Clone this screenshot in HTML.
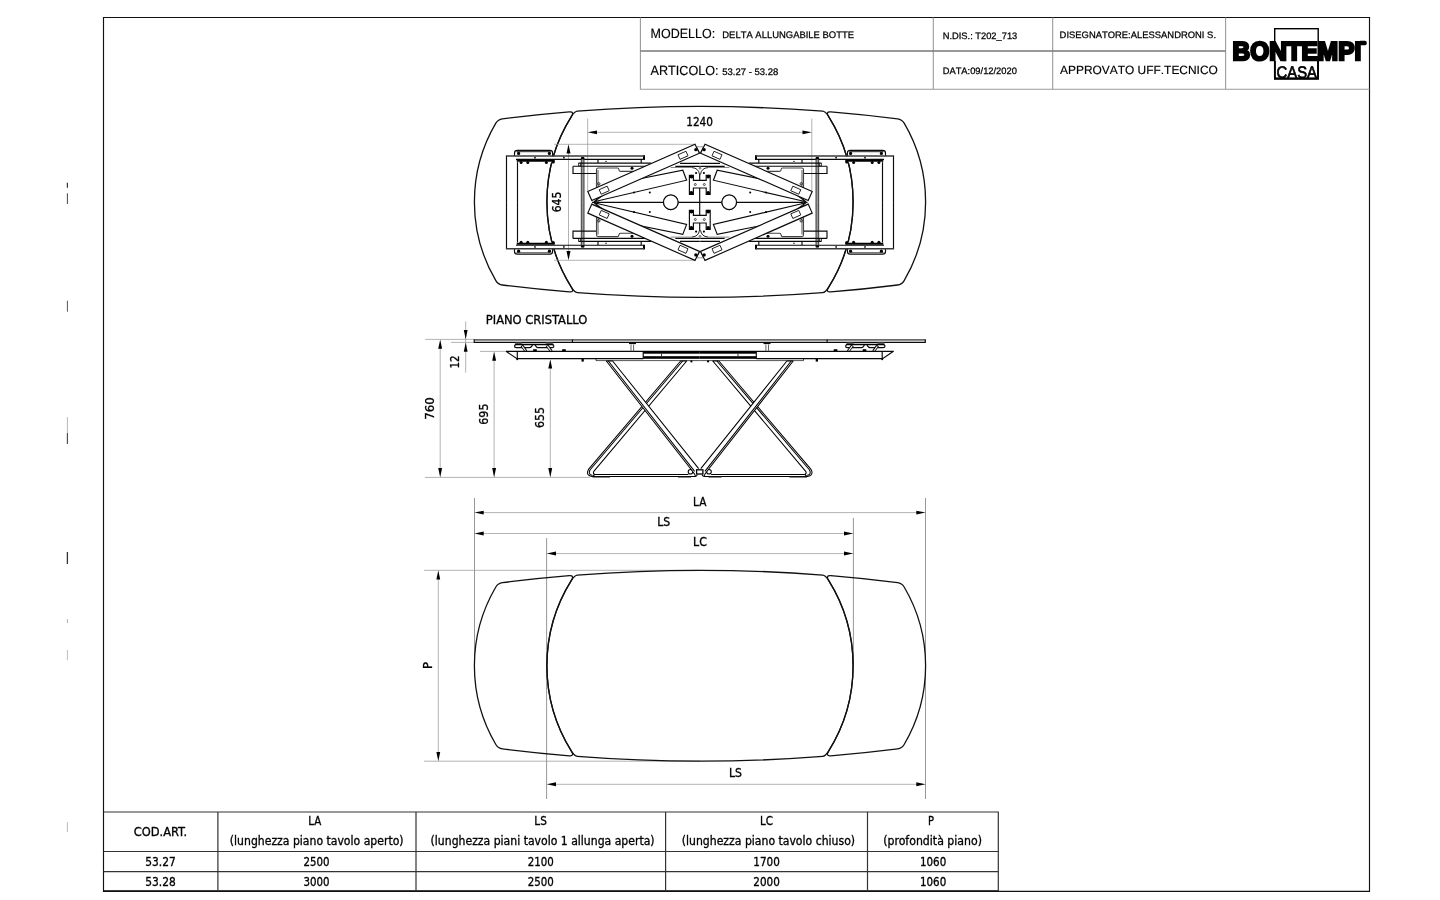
<!DOCTYPE html>
<html lang="it"><head><meta charset="utf-8"><title>DELTA ALLUNGABILE BOTTE - Bontempi Casa</title>
<style>
html,body{margin:0;padding:0;background:#fff;}
body{width:1440px;height:900px;overflow:hidden;position:relative;}
svg{position:absolute;left:0;top:0;display:block;filter:grayscale(1);}
.t{font-family:"DejaVu Sans Condensed","DejaVu Sans","Liberation Sans",sans-serif;font-size:12px;fill:#000;stroke:#000;stroke-width:.3px;}
.a{font-family:"Liberation Sans",sans-serif;fill:#000;text-rendering:geometricPrecision;font-kerning:none;}
.k{fill:none;stroke:#0a0a0a;stroke-width:1.15;}
.k2{fill:none;stroke:#111;stroke-width:1.3;}
.g{fill:none;stroke:#777;stroke-width:1.2;}
.d{fill:none;stroke:#999;stroke-width:.75;}
.tb{fill:none;stroke:#111;stroke-width:1.15;}
.tl{fill:none;stroke:#9a9a9a;stroke-width:1.1;}
.ar{fill:#000;stroke:none;}
.b{fill:#000;stroke:none;}
.lg{fill:none;stroke:#000;stroke-width:1.05;stroke-linejoin:round;}
.wf{fill:#fff;stroke:#0a0a0a;stroke-width:1.15;}
</style></head><body>
<svg width="1440" height="900" viewBox="0 0 1440 900">
<rect x="0" y="0" width="1440" height="900" fill="#fff"/>

<g id="frame">
<path class="tb" d="M103.5 891.3V17.5H1369.5V891.3Z"/>
<path d="M103.5 891.1H998.3" stroke="#111" stroke-width="1.6" fill="none"/>
<path d="M67.4 182.7V187.7" stroke="#333" stroke-width="1.2" fill="none"/>
<path d="M67.4 193.3V204.0" stroke="#444" stroke-width="1" fill="none"/>
<path d="M67.4 300.7V311.7" stroke="#555" stroke-width="1" fill="none"/>
<path d="M67.4 417.0V433.0" stroke="#999" stroke-width="0.7" fill="none"/>
<path d="M67.4 433.0V444.0" stroke="#444" stroke-width="1.1" fill="none"/>
<path d="M67.4 552.0V564.0" stroke="#333" stroke-width="1.3" fill="none"/>
<path d="M67.4 619.0V623.0" stroke="#999" stroke-width="0.8" fill="none"/>
<path d="M67.4 650.0V660.0" stroke="#aaa" stroke-width="0.8" fill="none"/>
<path d="M67.4 822.0V832.0" stroke="#aaa" stroke-width="0.8" fill="none"/>
</g>
<g id="title">
<path class="tl" d="M640.4 17.5V89.2H1369.5M933.3 17.5V89.2M1052.7 17.5V89.2M1225.6 17.5V89.2"/>
<path d="M640.4 51H1225.6" stroke="#777" stroke-width="1.3" fill="none"/>
<text class="a" x="650.6" y="37.8" font-size="13.3" stroke="#000" stroke-width=".15" textLength="64.6" lengthAdjust="spacingAndGlyphs">MODELLO:</text>
<text class="a" x="722.3" y="37.8" font-size="9.5" stroke="#000" stroke-width=".25" textLength="131.7" lengthAdjust="spacingAndGlyphs">DELTA ALLUNGABILE BOTTE</text>
<text class="a" x="650.6" y="75" font-size="13.3" stroke="#000" stroke-width=".15" textLength="68" lengthAdjust="spacingAndGlyphs">ARTICOLO:</text>
<text class="a" x="722.3" y="75" font-size="9.5" stroke="#000" stroke-width=".25" textLength="56" lengthAdjust="spacingAndGlyphs">53.27 - 53.28</text>
<text class="a" x="942.7" y="38.8" font-size="9.3" stroke="#000" stroke-width=".25" textLength="74.6" lengthAdjust="spacingAndGlyphs">N.DIS.: T202_713</text>
<text class="a" x="942.7" y="73.8" font-size="9.3" stroke="#000" stroke-width=".25" textLength="74.2" lengthAdjust="spacingAndGlyphs">DATA:09/12/2020</text>
<text class="a" x="1059.6" y="37.8" font-size="9.3" stroke="#000" stroke-width=".25" textLength="156.4" lengthAdjust="spacingAndGlyphs">DISEGNATORE:ALESSANDRONI S.</text>
<text class="a" x="1060" y="73.8" font-size="12" stroke="#000" stroke-width=".15" textLength="157.8" lengthAdjust="spacingAndGlyphs">APPROVATO UFF.TECNICO</text>
<g id="logo">
<rect x="1274.7" y="28.7" width="43.5" height="50" fill="#fff" stroke="#000" stroke-width="1.4"/>
<rect x="1274" y="77.4" width="44.9" height="2.3" fill="#000"/>
<path d="M1274.9 61V78M1318 61V78" stroke="#000" stroke-width="1.9" fill="none"/>
<text class="a" x="1232.6" y="59.6" font-size="25.9" font-weight="bold" textLength="128.6" lengthAdjust="spacingAndGlyphs" stroke="#000" stroke-width="2.5" stroke-linejoin="miter" stroke-miterlimit="8">BONTEMPI</text>
<path d="M1360 40.8H1365Q1366.8 40.8 1366.8 43Q1366.8 45.3 1365 45.3H1360Z" fill="#000"/>
<text class="a" x="1276.6" y="77.7" font-size="16.8" textLength="40.4" lengthAdjust="spacingAndGlyphs" stroke="#000" stroke-width=".7">CASA</text>
</g>
</g>
<g id="table">
<path class="k" style="stroke:#333;stroke-width:1.2" d="M103.5 812H998.3V891.2M103.5 851.5H998.3M103.5 871.6H998.3M217.9 812V891.2M416 812V891.2M665.6 812V891.2M867.5 812V891.2"/>
<text class="t" x="160.5" y="836.0" text-anchor="middle" textLength="53.5" lengthAdjust="spacingAndGlyphs">COD.ART.</text>
<text class="t" x="160.5" y="865.5" text-anchor="middle" textLength="30.5" lengthAdjust="spacingAndGlyphs">53.27</text>
<text class="t" x="160.5" y="885.6" text-anchor="middle" textLength="30.5" lengthAdjust="spacingAndGlyphs">53.28</text>
<text class="t" x="314.8" y="825.2" text-anchor="middle" textLength="13.0" lengthAdjust="spacingAndGlyphs">LA</text>
<text class="t" x="316.7" y="845.2" text-anchor="middle" textLength="173.7" lengthAdjust="spacingAndGlyphs">(lunghezza piano tavolo aperto)</text>
<text class="t" x="316.5" y="865.5" text-anchor="middle" textLength="26.0" lengthAdjust="spacingAndGlyphs">2500</text>
<text class="t" x="316.5" y="885.6" text-anchor="middle" textLength="26.0" lengthAdjust="spacingAndGlyphs">3000</text>
<text class="t" x="540.6" y="825.2" text-anchor="middle" textLength="12.5" lengthAdjust="spacingAndGlyphs">LS</text>
<text class="t" x="542.6" y="845.2" text-anchor="middle" textLength="224.0" lengthAdjust="spacingAndGlyphs">(lunghezza piani tavolo 1 allunga aperta)</text>
<text class="t" x="540.7" y="865.5" text-anchor="middle" textLength="26.0" lengthAdjust="spacingAndGlyphs">2100</text>
<text class="t" x="540.7" y="885.6" text-anchor="middle" textLength="26.0" lengthAdjust="spacingAndGlyphs">2500</text>
<text class="t" x="766.5" y="825.2" text-anchor="middle" textLength="13.0" lengthAdjust="spacingAndGlyphs">LC</text>
<text class="t" x="768.4" y="845.2" text-anchor="middle" textLength="173.3" lengthAdjust="spacingAndGlyphs">(lunghezza piano tavolo chiuso)</text>
<text class="t" x="766.6" y="865.5" text-anchor="middle" textLength="26.5" lengthAdjust="spacingAndGlyphs">1700</text>
<text class="t" x="766.6" y="885.6" text-anchor="middle" textLength="26.5" lengthAdjust="spacingAndGlyphs">2000</text>
<text class="t" x="931.0" y="825.2" text-anchor="middle" textLength="6.0" lengthAdjust="spacingAndGlyphs">P</text>
<text class="t" x="932.6" y="845.2" text-anchor="middle" textLength="98.8" lengthAdjust="spacingAndGlyphs">(profondità piano)</text>
<text class="t" x="933.1" y="865.5" text-anchor="middle" textLength="26.2" lengthAdjust="spacingAndGlyphs">1060</text>
<text class="t" x="933.1" y="885.6" text-anchor="middle" textLength="26.2" lengthAdjust="spacingAndGlyphs">1060</text>
</g>
<g id="plan">
<g class="d">
<path style="stroke:#6a6a6a;stroke-width:.7" d="M474.5 498V665M925.5 498V799M853.4 518V665M546.6 538V799"/>
<path d="M483 512.6H917M483 533.5H845M555 553.6H845M555 784.3H917"/>
<path d="M424 570.3H700M424 761.2H700M438.3 579V753"/>
</g>
<polygon class="ar" points="474.4,512.6 483.7,510.7 483.7,514.6"/>
<polygon class="ar" points="925.6,512.6 916.3,510.7 916.3,514.6"/>
<polygon class="ar" points="474.4,533.5 483.7,531.5 483.7,535.5"/>
<polygon class="ar" points="853.3,533.5 844.0,531.5 844.0,535.5"/>
<polygon class="ar" points="546.7,553.6 556.0,551.6 556.0,555.6"/>
<polygon class="ar" points="853.3,553.6 844.0,551.6 844.0,555.6"/>
<polygon class="ar" points="546.7,784.3 556.0,782.3 556.0,786.2"/>
<polygon class="ar" points="925.6,784.3 916.3,782.3 916.3,786.2"/>
<polygon class="ar" points="438.3,570.3 436.4,579.6 440.2,579.6"/>
<polygon class="ar" points="438.3,761.2 436.4,751.9 440.2,751.9"/>
<text class="t" x="699.7" y="505.8" text-anchor="middle" textLength="13.3" lengthAdjust="spacingAndGlyphs">LA</text>
<text class="t" x="663.7" y="525.8" text-anchor="middle" textLength="13.0" lengthAdjust="spacingAndGlyphs">LS</text>
<text class="t" x="700.0" y="545.6" text-anchor="middle" textLength="13.8" lengthAdjust="spacingAndGlyphs">LC</text>
<text class="t" x="735.5" y="776.7" text-anchor="middle" textLength="13.0" lengthAdjust="spacingAndGlyphs">LS</text>
<text class="t" transform="translate(432.2 665.6) rotate(-90)" text-anchor="middle" style="font-size:12.7px">P</text>
<g class="k2" transform="translate(700.00 665.75)">
<path d="M -122.70 -90.69 A 1580 1580 0 0 1 122.70 -90.69 Q 125.30 -90.48 128.26 -85.96 A 161.15 161.15 0 0 1 128.26 85.96 Q 125.30 90.48 122.70 90.69 A 1580 1580 0 0 1 -122.70 90.69 Q -125.30 90.48 -128.26 85.96 A 161.15 161.15 0 0 1 -128.26 -85.96 Q -125.30 -90.48 -122.70 -90.69 Z"/>
<path d="M 130.70 -90.04 A 1580 1580 0 0 1 197.64 -83.09 Q 201.84 -82.56 204.02 -78.98 A 155.3 155.3 0 0 1 204.02 78.98 Q 201.84 82.56 197.64 83.09 A 1580 1580 0 0 1 130.70 90.04 Q 125.30 90.48 128.68 85.29 A 161.15 161.15 0 0 0 128.68 -85.29 Q 125.30 -90.48 130.70 -90.04 Z"/>
<path d="M -130.70 -90.04 A 1580 1580 0 0 0 -197.64 -83.09 Q -201.84 -82.56 -204.02 -78.98 A 155.3 155.3 0 0 0 -204.02 78.98 Q -201.84 82.56 -197.64 83.09 A 1580 1580 0 0 0 -130.70 90.04 Q -125.30 90.48 -128.68 85.29 A 161.15 161.15 0 0 1 -128.68 -85.29 Q -125.30 -90.48 -130.70 -90.04 Z"/>
</g>
</g><g id="topview">
<g class="k2" transform="translate(700.00 201.90)">
<path d="M -122.70 -90.69 A 1580 1580 0 0 1 122.70 -90.69 Q 125.30 -90.48 128.26 -85.96 A 161.15 161.15 0 0 1 128.26 85.96 Q 125.30 90.48 122.70 90.69 A 1580 1580 0 0 1 -122.70 90.69 Q -125.30 90.48 -128.26 85.96 A 161.15 161.15 0 0 1 -128.26 -85.96 Q -125.30 -90.48 -122.70 -90.69 Z"/>
<path d="M 130.70 -90.04 A 1580 1580 0 0 1 197.64 -83.09 Q 201.84 -82.56 204.02 -78.98 A 155.3 155.3 0 0 1 204.02 78.98 Q 201.84 82.56 197.64 83.09 A 1580 1580 0 0 1 130.70 90.04 Q 125.30 90.48 128.68 85.29 A 161.15 161.15 0 0 0 128.68 -85.29 Q 125.30 -90.48 130.70 -90.04 Z"/>
<path d="M -130.70 -90.04 A 1580 1580 0 0 0 -197.64 -83.09 Q -201.84 -82.56 -204.02 -78.98 A 155.3 155.3 0 0 0 -204.02 78.98 Q -201.84 82.56 -197.64 83.09 A 1580 1580 0 0 0 -130.70 90.04 Q -125.30 90.48 -128.68 85.29 A 161.15 161.15 0 0 1 -128.68 -85.29 Q -125.30 -90.48 -130.70 -90.04 Z"/>
</g>
<g class="d">
<path d="M587.7 118.6V191M811.8 118.6V191M596.5 132.3H803M554 144.3H695M554 260.3H695M568.5 153V251.5"/>
</g>
<polygon class="ar" points="587.7,132.3 597.0,130.4 597.0,134.2"/>
<polygon class="ar" points="811.8,132.3 802.5,130.4 802.5,134.2"/>
<polygon class="ar" points="568.5,144.3 566.5,153.6 570.5,153.6"/>
<polygon class="ar" points="568.5,260.3 566.5,251.0 570.5,251.0"/>
<text class="t" x="699.6" y="125.6" text-anchor="middle" textLength="26.8" lengthAdjust="spacingAndGlyphs">1240</text>
<text class="t" transform="translate(561 202) rotate(-90)" text-anchor="middle" style="font-size:12.7px" textLength="20.6" lengthAdjust="spacingAndGlyphs">645</text>
<path class="k" d="M592 202.3H807.5"/>
<path class="k" d="M699.7 174V230.6"/>
<g><rect class="b" x="643" y="155.2" width="2" height="4.7"/>
<path class="k" d="M506.5 155.8V202.4M517.5 159V202.4"/>
<rect x="513" y="156.6" width="50" height="5.6" fill="#fff" stroke="none"/>
<path class="k" style="fill:#fff" d="M514.5 156V153Q514.5 150.4 517.4 150.4H549.8Q552.6 150.4 552.6 153V156"/>
<path class="k" style="stroke-width:.9" d="M516.4 151.7H550.6"/>
<path d="M505.9 155.9H644" stroke="#3a3a3a" stroke-width="1.5" fill="none"/>
<path class="k" d="M516 159.4H643"/>
<circle class="b" cx="518.6" cy="153.4" r="1.6"/><circle class="b" cx="549.4" cy="153.4" r="1.6"/>
<path d="M516.7 160.8H554.7" stroke="#000" stroke-width="2" fill="none"/>
<circle class="b" cx="521.1" cy="162.4" r="1.5"/>
<circle class="b" cx="527.8" cy="162.4" r="1.5"/>
<circle class="b" cx="546.4" cy="162.4" r="1.5"/>
<circle class="b" cx="553.3" cy="162.0" r="1.5"/>
<circle class="b" cx="535" cy="157.7" r=".85"/><circle class="b" cx="563.9" cy="157.7" r=".85"/>
<rect x="581.4" y="158" width="2.5" height="44.4" fill="#9a9a9a" stroke="none"/>
<path class="g" style="stroke:#2a2a2a;stroke-width:.9" d="M581.3 158V202.4M584 158V202.4"/>
<rect class="b" x="581.1" y="157" width="3.1" height="2.4"/>
<path class="k" d="M598 159.4V163M641.2 159.4V163"/>
<circle class="b" cx="606" cy="161.4" r=".7"/>
<path class="k" style="stroke-width:1.3" d="M578.4 163.2H651"/>
<path class="k" style="stroke-width:.8" d="M578.6 163.2V166H580.6V163.2"/>
<path class="k" d="M573 166.2H648"/>
<path class="k" d="M573 166.2V173.5H596"/>
<path class="g" style="stroke:#444;stroke-width:1.1" d="M596.5 202.4V169.6Q596.5 168 598.2 168H617.8Q618.6 168 618.8 169.4Q619 171.4 620.6 171.4H633.5"/>
<path class="k" style="stroke-width:.7" d="M598 202.4V170"/>
<circle class="b" cx="632" cy="168.3" r="1.5"/>
<circle class="k" style="stroke-width:.8" cx="598.8" cy="183.8" r="1.2"/>
<polygon class="wf" points="594,201.8 620,182.8 682.8,170.2 686.6,180.2"/>
<polygon class="wf" points="587.8,191.5 695,144.2 699.4,153.2 591.8,200.5"/>
<polygon class="k" style="stroke-width:.9" points="599.21,189.67 607.17,186.16 609.19,190.73 601.23,194.24"/>
<polygon class="k" style="stroke-width:.9" points="678.01,154.77 685.97,151.26 687.99,155.83 680.03,159.34"/>
<circle class="b" cx="634" cy="192.6" r="1"/><circle class="b" cx="649.8" cy="192.6" r="1"/>
<circle class="wf" cx="670.8" cy="202.3" r="7.3"/>
<circle class="b" cx="695.8" cy="149.7" r="1.6"/>
<path class="k" style="stroke-width:.8" d="M696.6 147.2L699.75 153.2"/>
<path class="g" style="stroke-width:.9" d="M697 146.8H699.8"/>
<path class="k" style="stroke-width:.9" d="M692 167.6Q698.6 168 699.5 174.4"/>
<circle class="b" cx="696.1" cy="173" r="1.1"/>
<path class="k" d="M680 163.3H699.8M675.3 166.3H699.8"/>
<path class="g" style="stroke-width:.9" d="M670.7 167.5H692"/></g>
<g transform="translate(1400.00 0) scale(-1 1)"><rect class="b" x="643" y="155.2" width="2" height="4.7"/>
<path class="k" d="M506.5 155.8V202.4M517.5 159V202.4"/>
<rect x="513" y="156.6" width="50" height="5.6" fill="#fff" stroke="none"/>
<path class="k" style="fill:#fff" d="M514.5 156V153Q514.5 150.4 517.4 150.4H549.8Q552.6 150.4 552.6 153V156"/>
<path class="k" style="stroke-width:.9" d="M516.4 151.7H550.6"/>
<path d="M505.9 155.9H644" stroke="#3a3a3a" stroke-width="1.5" fill="none"/>
<path class="k" d="M516 159.4H643"/>
<circle class="b" cx="518.6" cy="153.4" r="1.6"/><circle class="b" cx="549.4" cy="153.4" r="1.6"/>
<path d="M516.7 160.8H554.7" stroke="#000" stroke-width="2" fill="none"/>
<circle class="b" cx="521.1" cy="162.4" r="1.5"/>
<circle class="b" cx="527.8" cy="162.4" r="1.5"/>
<circle class="b" cx="546.4" cy="162.4" r="1.5"/>
<circle class="b" cx="553.3" cy="162.0" r="1.5"/>
<circle class="b" cx="535" cy="157.7" r=".85"/><circle class="b" cx="563.9" cy="157.7" r=".85"/>
<rect x="581.4" y="158" width="2.5" height="44.4" fill="#9a9a9a" stroke="none"/>
<path class="g" style="stroke:#2a2a2a;stroke-width:.9" d="M581.3 158V202.4M584 158V202.4"/>
<rect class="b" x="581.1" y="157" width="3.1" height="2.4"/>
<path class="k" d="M598 159.4V163M641.2 159.4V163"/>
<circle class="b" cx="606" cy="161.4" r=".7"/>
<path class="k" style="stroke-width:1.3" d="M578.4 163.2H651"/>
<path class="k" style="stroke-width:.8" d="M578.6 163.2V166H580.6V163.2"/>
<path class="k" d="M573 166.2H648"/>
<path class="k" d="M573 166.2V173.5H596"/>
<path class="g" style="stroke:#444;stroke-width:1.1" d="M596.5 202.4V169.6Q596.5 168 598.2 168H617.8Q618.6 168 618.8 169.4Q619 171.4 620.6 171.4H633.5"/>
<path class="k" style="stroke-width:.7" d="M598 202.4V170"/>
<circle class="b" cx="632" cy="168.3" r="1.5"/>
<circle class="k" style="stroke-width:.8" cx="598.8" cy="183.8" r="1.2"/>
<polygon class="wf" points="594,201.8 620,182.8 682.8,170.2 686.6,180.2"/>
<polygon class="wf" points="587.8,191.5 695,144.2 699.4,153.2 591.8,200.5"/>
<polygon class="k" style="stroke-width:.9" points="599.21,189.67 607.17,186.16 609.19,190.73 601.23,194.24"/>
<polygon class="k" style="stroke-width:.9" points="678.01,154.77 685.97,151.26 687.99,155.83 680.03,159.34"/>
<circle class="b" cx="634" cy="192.6" r="1"/><circle class="b" cx="649.8" cy="192.6" r="1"/>
<circle class="wf" cx="670.8" cy="202.3" r="7.3"/>
<circle class="b" cx="695.8" cy="149.7" r="1.6"/>
<path class="k" style="stroke-width:.8" d="M696.6 147.2L699.75 153.2"/>
<path class="g" style="stroke-width:.9" d="M697 146.8H699.8"/>
<path class="k" style="stroke-width:.9" d="M692 167.6Q698.6 168 699.5 174.4"/>
<circle class="b" cx="696.1" cy="173" r="1.1"/>
<path class="k" d="M680 163.3H699.8M675.3 166.3H699.8"/>
<path class="g" style="stroke-width:.9" d="M670.7 167.5H692"/></g>
<g transform="translate(0 404.60) scale(1 -1)"><rect class="b" x="643" y="155.2" width="2" height="4.7"/>
<path class="k" d="M506.5 155.8V202.4M517.5 159V202.4"/>
<rect x="513" y="156.6" width="50" height="5.6" fill="#fff" stroke="none"/>
<path class="k" style="fill:#fff" d="M514.5 156V153Q514.5 150.4 517.4 150.4H549.8Q552.6 150.4 552.6 153V156"/>
<path class="k" style="stroke-width:.9" d="M516.4 151.7H550.6"/>
<path d="M505.9 155.9H644" stroke="#3a3a3a" stroke-width="1.5" fill="none"/>
<path class="k" d="M516 159.4H643"/>
<circle class="b" cx="518.6" cy="153.4" r="1.6"/><circle class="b" cx="549.4" cy="153.4" r="1.6"/>
<path d="M516.7 160.8H554.7" stroke="#000" stroke-width="2" fill="none"/>
<circle class="b" cx="521.1" cy="162.4" r="1.5"/>
<circle class="b" cx="527.8" cy="162.4" r="1.5"/>
<circle class="b" cx="546.4" cy="162.4" r="1.5"/>
<circle class="b" cx="553.3" cy="162.0" r="1.5"/>
<circle class="b" cx="535" cy="157.7" r=".85"/><circle class="b" cx="563.9" cy="157.7" r=".85"/>
<rect x="581.4" y="158" width="2.5" height="44.4" fill="#9a9a9a" stroke="none"/>
<path class="g" style="stroke:#2a2a2a;stroke-width:.9" d="M581.3 158V202.4M584 158V202.4"/>
<rect class="b" x="581.1" y="157" width="3.1" height="2.4"/>
<path class="k" d="M598 159.4V163M641.2 159.4V163"/>
<circle class="b" cx="606" cy="161.4" r=".7"/>
<path class="k" style="stroke-width:1.3" d="M578.4 163.2H651"/>
<path class="k" style="stroke-width:.8" d="M578.6 163.2V166H580.6V163.2"/>
<path class="k" d="M573 166.2H648"/>
<path class="k" d="M573 166.2V173.5H596"/>
<path class="g" style="stroke:#444;stroke-width:1.1" d="M596.5 202.4V169.6Q596.5 168 598.2 168H617.8Q618.6 168 618.8 169.4Q619 171.4 620.6 171.4H633.5"/>
<path class="k" style="stroke-width:.7" d="M598 202.4V170"/>
<circle class="b" cx="632" cy="168.3" r="1.5"/>
<circle class="k" style="stroke-width:.8" cx="598.8" cy="183.8" r="1.2"/>
<polygon class="wf" points="594,201.8 620,182.8 682.8,170.2 686.6,180.2"/>
<polygon class="wf" points="587.8,191.5 695,144.2 699.4,153.2 591.8,200.5"/>
<polygon class="k" style="stroke-width:.9" points="599.21,189.67 607.17,186.16 609.19,190.73 601.23,194.24"/>
<polygon class="k" style="stroke-width:.9" points="678.01,154.77 685.97,151.26 687.99,155.83 680.03,159.34"/>
<circle class="b" cx="634" cy="192.6" r="1"/><circle class="b" cx="649.8" cy="192.6" r="1"/>
<circle class="wf" cx="670.8" cy="202.3" r="7.3"/>
<circle class="b" cx="695.8" cy="149.7" r="1.6"/>
<path class="k" style="stroke-width:.8" d="M696.6 147.2L699.75 153.2"/>
<path class="g" style="stroke-width:.9" d="M697 146.8H699.8"/>
<path class="k" style="stroke-width:.9" d="M692 167.6Q698.6 168 699.5 174.4"/>
<circle class="b" cx="696.1" cy="173" r="1.1"/>
<path class="k" d="M680 163.3H699.8M675.3 166.3H699.8"/>
<path class="g" style="stroke-width:.9" d="M670.7 167.5H692"/></g>
<g transform="translate(1400.00 404.60) scale(-1 -1)"><rect class="b" x="643" y="155.2" width="2" height="4.7"/>
<path class="k" d="M506.5 155.8V202.4M517.5 159V202.4"/>
<rect x="513" y="156.6" width="50" height="5.6" fill="#fff" stroke="none"/>
<path class="k" style="fill:#fff" d="M514.5 156V153Q514.5 150.4 517.4 150.4H549.8Q552.6 150.4 552.6 153V156"/>
<path class="k" style="stroke-width:.9" d="M516.4 151.7H550.6"/>
<path d="M505.9 155.9H644" stroke="#3a3a3a" stroke-width="1.5" fill="none"/>
<path class="k" d="M516 159.4H643"/>
<circle class="b" cx="518.6" cy="153.4" r="1.6"/><circle class="b" cx="549.4" cy="153.4" r="1.6"/>
<path d="M516.7 160.8H554.7" stroke="#000" stroke-width="2" fill="none"/>
<circle class="b" cx="521.1" cy="162.4" r="1.5"/>
<circle class="b" cx="527.8" cy="162.4" r="1.5"/>
<circle class="b" cx="546.4" cy="162.4" r="1.5"/>
<circle class="b" cx="553.3" cy="162.0" r="1.5"/>
<circle class="b" cx="535" cy="157.7" r=".85"/><circle class="b" cx="563.9" cy="157.7" r=".85"/>
<rect x="581.4" y="158" width="2.5" height="44.4" fill="#9a9a9a" stroke="none"/>
<path class="g" style="stroke:#2a2a2a;stroke-width:.9" d="M581.3 158V202.4M584 158V202.4"/>
<rect class="b" x="581.1" y="157" width="3.1" height="2.4"/>
<path class="k" d="M598 159.4V163M641.2 159.4V163"/>
<circle class="b" cx="606" cy="161.4" r=".7"/>
<path class="k" style="stroke-width:1.3" d="M578.4 163.2H651"/>
<path class="k" style="stroke-width:.8" d="M578.6 163.2V166H580.6V163.2"/>
<path class="k" d="M573 166.2H648"/>
<path class="k" d="M573 166.2V173.5H596"/>
<path class="g" style="stroke:#444;stroke-width:1.1" d="M596.5 202.4V169.6Q596.5 168 598.2 168H617.8Q618.6 168 618.8 169.4Q619 171.4 620.6 171.4H633.5"/>
<path class="k" style="stroke-width:.7" d="M598 202.4V170"/>
<circle class="b" cx="632" cy="168.3" r="1.5"/>
<circle class="k" style="stroke-width:.8" cx="598.8" cy="183.8" r="1.2"/>
<polygon class="wf" points="594,201.8 620,182.8 682.8,170.2 686.6,180.2"/>
<polygon class="wf" points="587.8,191.5 695,144.2 699.4,153.2 591.8,200.5"/>
<polygon class="k" style="stroke-width:.9" points="599.21,189.67 607.17,186.16 609.19,190.73 601.23,194.24"/>
<polygon class="k" style="stroke-width:.9" points="678.01,154.77 685.97,151.26 687.99,155.83 680.03,159.34"/>
<circle class="b" cx="634" cy="192.6" r="1"/><circle class="b" cx="649.8" cy="192.6" r="1"/>
<circle class="wf" cx="670.8" cy="202.3" r="7.3"/>
<circle class="b" cx="695.8" cy="149.7" r="1.6"/>
<path class="k" style="stroke-width:.8" d="M696.6 147.2L699.75 153.2"/>
<path class="g" style="stroke-width:.9" d="M697 146.8H699.8"/>
<path class="k" style="stroke-width:.9" d="M692 167.6Q698.6 168 699.5 174.4"/>
<circle class="b" cx="696.1" cy="173" r="1.1"/>
<path class="k" d="M680 163.3H699.8M675.3 166.3H699.8"/>
<path class="g" style="stroke-width:.9" d="M670.7 167.5H692"/></g>
<path class="wf" d="M689.4 175.3H693.4V180.3H706.2V175.3H710.2V194.3H706.2V188.0H693.4V194.3H689.4Z"/><circle class="b" cx="691.4" cy="176.6" r="1.9"/><circle class="b" cx="708.2" cy="176.6" r="1.9"/><circle class="b" cx="691.4" cy="193.0" r="1.9"/><circle class="b" cx="708.2" cy="193.0" r="1.9"/><circle class="k" style="stroke-width:.7" cx="695.3" cy="184.5" r="1"/><circle class="k" style="stroke-width:.7" cx="704.3" cy="184.5" r="1"/>
<path class="wf" d="M689.4 210.3H693.4V215.3H706.2V210.3H710.2V229.3H706.2V223.0H693.4V229.3H689.4Z"/><circle class="b" cx="691.4" cy="211.6" r="1.9"/><circle class="b" cx="708.2" cy="211.6" r="1.9"/><circle class="b" cx="691.4" cy="228.0" r="1.9"/><circle class="b" cx="708.2" cy="228.0" r="1.9"/><circle class="k" style="stroke-width:.7" cx="695.3" cy="219.5" r="1"/><circle class="k" style="stroke-width:.7" cx="704.3" cy="219.5" r="1"/>
<circle class="k" style="stroke-width:.6" cx="700.00" cy="168.2" r=".9"/><circle class="k" style="stroke-width:.6" cx="700.00" cy="236.4" r=".9"/>
</g><g id="side">
<g class="d">
<path d="M425.3 339.4H474M451 342.4H474M465.7 321.5V372.6M440.2 348V468.5M480 351.4H506M494.1 360V468.5M550.3 368V468.5M425 477.4H590"/>
</g>
<polygon class="ar" points="465.7,339.3 463.8,330.0 467.6,330.0"/>
<polygon class="ar" points="465.7,342.4 463.8,351.7 467.6,351.7"/>
<polygon class="ar" points="440.2,339.4 438.2,348.7 442.1,348.7"/>
<polygon class="ar" points="440.2,477.4 438.2,468.1 442.1,468.1"/>
<polygon class="ar" points="494.1,351.4 492.2,360.7 496.1,360.7"/>
<polygon class="ar" points="494.1,477.4 492.2,468.1 496.1,468.1"/>
<polygon class="ar" points="550.3,359.2 548.3,368.5 552.2,368.5"/>
<polygon class="ar" points="550.3,477.4 548.3,468.1 552.2,468.1"/>
<text class="t" x="485.8" y="323.6" textLength="101.6" lengthAdjust="spacingAndGlyphs">PIANO CRISTALLO</text>
<text class="t" transform="translate(459.0 362.0) rotate(-90)" text-anchor="middle" style="font-size:12.7px" textLength="13.2" lengthAdjust="spacingAndGlyphs">12</text>
<text class="t" transform="translate(433.6 408.4) rotate(-90)" text-anchor="middle" style="font-size:12.7px" textLength="22.6" lengthAdjust="spacingAndGlyphs">760</text>
<text class="t" transform="translate(487.9 414.1) rotate(-90)" text-anchor="middle" style="font-size:12.7px" textLength="21.2" lengthAdjust="spacingAndGlyphs">695</text>
<text class="t" transform="translate(543.8 417.5) rotate(-90)" text-anchor="middle" style="font-size:12.7px" textLength="21.0" lengthAdjust="spacingAndGlyphs">655</text>
<path d="M474.2 339.9H925.3" stroke="#6a6a6a" stroke-width="1.6" fill="none"/>
<path class="k" d="M474.2 339.3V342.4H925.3V339.3M572.4 339.5V342.4M827.1 339.5V342.4"/>
<g><path d="M515.2 343.1H522M545.8 343.1H552.9" stroke="#444" stroke-width="1.5" fill="none"/>
<path d="M515 344.6H553.4" stroke="#000" stroke-width="1.5" fill="none"/>
<path class="k" d="M516 344.6Q514.5 344.8 514.5 346Q514.5 347.6 516.2 347.6H529.8Q531 347.4 531.6 346.4L532.6 344.8M535 344.8L536 346.4Q536.6 347.4 537.8 347.6H552.2Q553.9 347.6 553.9 346Q553.9 344.8 552.4 344.6"/>
<path d="M521.8 345.4L526 351.3M547 345.4L551.4 351.3" stroke="#111" stroke-width="3" fill="none"/>
<path d="M522.2 346.2L525.6 351M547.4 346.2L551 351" stroke="#fff" stroke-width="1.1" fill="none"/>
<path class="k" d="M506 351.3H699.75"/>
<path class="k" d="M506 351.3L517.3 359V351.3"/>
<path class="k" d="M517.3 358.6H643.2"/>
<circle class="b" cx="517.2" cy="359.3" r=".9"/>
<rect class="b" x="533.2" y="349.2" width="3.6" height="2.1"/><rect class="b" x="562.1" y="349.2" width="3.7" height="2.1"/>
<rect class="b" x="581.5" y="359" width="2.3" height="2.6"/>
<path class="g" style="stroke:#555;stroke-width:1" d="M596 360.6H699.75"/>
<path class="k" style="stroke-width:.8" d="M596 359V360.6"/>
<path class="g" style="stroke:#555;stroke-width:.9" d="M631 344.5V351.3M633.6 344.5V351.3"/>
<path class="k" style="stroke-width:1.4" d="M629 343.4H636"/>
<rect class="b" x="643.2" y="351.3" width="56.55" height="2.4"/>
<rect class="b" x="643.2" y="356.2" width="56.55" height="2.6"/>
<path class="k" d="M643.2 351.3V359"/>
<path class="k" style="stroke-width:.8" d="M661.5 353.7V356.2"/>
<circle class="b" cx="691.4" cy="361.4" r="1.1"/>
<circle class="lg" cx="690.5" cy="471.7" r="2.3"/>
<path class="lg" style="fill:#fff" d="M680.6 361L588.46 469.4Q586.4 473 588.6 475.2Q590 476.5 592.4 476.4L594.8 474.5Q592.6 473.6 593.8 471.4L686.7 361Z"/>
<path class="lg" d="M682.6 361L589.95 470Q588.6 473 590 474.4Q591 475.2 592.4 475.2"/>
<path style="fill:#fff;stroke:none" d="M606.3 361L692.95 471.8Q695.4 474.4 695.4 476.4L698 476V469.6L698.6 468.4L612.6 361Z"/>
<path class="lg" d="M606.3 361L692.95 471.8Q695.2 474.4 695.4 476.4Q697 476.2 697.4 474.6M612.6 361L698.7 468.6"/>
<path class="lg" d="M606.3 361H612.6"/>
<path class="lg" d="M608.3 361L694.63 471.4"/>
<path class="lg" d="M594.8 474.5H688.4M592.4 476.4H695.4"/>
<path class="g" style="stroke:#777;stroke-width:1" d="M592.5 477.4H610M678 477.4H691"/></g>
<g transform="translate(1399.50 0) scale(-1 1)"><path d="M515.2 343.1H522M545.8 343.1H552.9" stroke="#444" stroke-width="1.5" fill="none"/>
<path d="M515 344.6H553.4" stroke="#000" stroke-width="1.5" fill="none"/>
<path class="k" d="M516 344.6Q514.5 344.8 514.5 346Q514.5 347.6 516.2 347.6H529.8Q531 347.4 531.6 346.4L532.6 344.8M535 344.8L536 346.4Q536.6 347.4 537.8 347.6H552.2Q553.9 347.6 553.9 346Q553.9 344.8 552.4 344.6"/>
<path d="M521.8 345.4L526 351.3M547 345.4L551.4 351.3" stroke="#111" stroke-width="3" fill="none"/>
<path d="M522.2 346.2L525.6 351M547.4 346.2L551 351" stroke="#fff" stroke-width="1.1" fill="none"/>
<path class="k" d="M506 351.3H699.75"/>
<path class="k" d="M506 351.3L517.3 359V351.3"/>
<path class="k" d="M517.3 358.6H643.2"/>
<circle class="b" cx="517.2" cy="359.3" r=".9"/>
<rect class="b" x="533.2" y="349.2" width="3.6" height="2.1"/><rect class="b" x="562.1" y="349.2" width="3.7" height="2.1"/>
<rect class="b" x="581.5" y="359" width="2.3" height="2.6"/>
<path class="g" style="stroke:#555;stroke-width:1" d="M596 360.6H699.75"/>
<path class="k" style="stroke-width:.8" d="M596 359V360.6"/>
<path class="g" style="stroke:#555;stroke-width:.9" d="M631 344.5V351.3M633.6 344.5V351.3"/>
<path class="k" style="stroke-width:1.4" d="M629 343.4H636"/>
<rect class="b" x="643.2" y="351.3" width="56.55" height="2.4"/>
<rect class="b" x="643.2" y="356.2" width="56.55" height="2.6"/>
<path class="k" d="M643.2 351.3V359"/>
<path class="k" style="stroke-width:.8" d="M661.5 353.7V356.2"/>
<circle class="b" cx="691.4" cy="361.4" r="1.1"/>
<circle class="lg" cx="690.5" cy="471.7" r="2.3"/>
<path class="lg" style="fill:#fff" d="M680.6 361L588.46 469.4Q586.4 473 588.6 475.2Q590 476.5 592.4 476.4L594.8 474.5Q592.6 473.6 593.8 471.4L686.7 361Z"/>
<path class="lg" d="M682.6 361L589.95 470Q588.6 473 590 474.4Q591 475.2 592.4 475.2"/>
<path style="fill:#fff;stroke:none" d="M606.3 361L692.95 471.8Q695.4 474.4 695.4 476.4L698 476V469.6L698.6 468.4L612.6 361Z"/>
<path class="lg" d="M606.3 361L692.95 471.8Q695.2 474.4 695.4 476.4Q697 476.2 697.4 474.6M612.6 361L698.7 468.6"/>
<path class="lg" d="M606.3 361H612.6"/>
<path class="lg" d="M608.3 361L694.63 471.4"/>
<path class="lg" d="M594.8 474.5H688.4M592.4 476.4H695.4"/>
<path class="g" style="stroke:#777;stroke-width:1" d="M592.5 477.4H610M678 477.4H691"/></g>
<rect x="696.6" y="469.8" width="6.3" height="4.2" fill="#fff" stroke="#000" stroke-width="1.3"/>
</g>
</svg>
</body></html>
